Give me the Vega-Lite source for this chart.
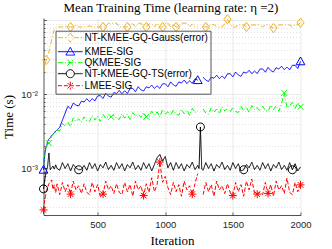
{
"$schema":"https://vega.github.io/schema/vega-lite/v6.json",
"width":257,"height":197,"autosize":"none",
"padding":{"left":43.5,"top":18,"right":31.5,"bottom":34},
"background":"white",
"title":{"text":"Mean Training Time (learning rate: η =2)","font":"Liberation Serif","fontSize":13,"fontWeight":"normal","color":"#000","anchor":"middle","offset":4,"baseline":"bottom","dx":-1,"dy":19},
"datasets":{
"lines":[
{"x":100,"a":0.0195,"b":0.00096,"c":0.00105,"d":0.00053,"e":0.000275},
{"x":105,"a":0.022,"b":0.0013,"c":0.0013,"d":0.00062,"e":0.00033},
{"x":110,"a":0.0245,"b":0.0016,"c":0.0015,"d":0.00072,"e":0.00038},
{"x":115,"a":0.027,"b":0.0018,"c":0.0017,"d":0.0008,"e":0.00043},
{"x":120,"a":0.0292,"b":0.002,"c":0.0019,"d":0.00092,"e":0.00048},
{"x":125,"a":0.031,"b":0.0021,"c":0.002,"d":0.00098,"e":0.00051},
{"x":130,"a":0.034,"b":0.0023,"c":0.0021,"d":0.00105,"e":0.00055},
{"x":140,"a":0.038,"b":0.0025,"c":0.0022,"d":0.00162,"e":0.00062},
{"x":150,"a":0.045,"b":0.0026,"c":0.0025,"d":0.00096,"e":0.00066},
{"x":160,"a":0.055,"b":0.0028,"c":0.0027,"d":0.00102,"e":0.0007},
{"x":170,"a":0.066,"b":0.0029,"c":0.0029,"d":0.00108,"e":0.00052},
{"x":180,"a":0.075,"b":0.003,"c":0.0031,"d":0.00098,"e":0.0006},
{"x":190,"a":0.08,"b":0.0032,"c":0.0032,"d":0.00112,"e":0.00047},
{"x":200,"a":0.0817,"b":0.0033,"c":0.0033,"d":0.001,"e":0.00062},
{"x":220,"a":0.0817,"b":0.0036,"c":0.00322,"d":0.000945,"e":0.000443},
{"x":240,"a":0.0817,"b":0.0045,"c":0.00407,"d":0.0012,"e":0.000648},
{"x":260,"a":0.083,"b":0.0056,"c":0.00374,"d":0.001,"e":0.000486},
{"x":280,"a":0.0817,"b":0.00693,"c":0.00424,"d":0.00116,"e":0.000605},
{"x":300,"a":0.0817,"b":0.00639,"c":0.00369,"d":0.000924,"e":0.00045},
{"x":320,"a":0.0817,"b":0.00767,"c":0.00482,"d":0.00113,"e":0.000675},
{"x":340,"a":0.086,"b":0.00718,"c":0.00431,"d":0.00102,"e":0.000513},
{"x":360,"a":0.0817,"b":0.00699,"c":0.00468,"d":0.00096,"e":0.000583},
{"x":380,"a":0.0817,"b":0.00811,"c":0.00419,"d":0.000966,"e":0.000459},
{"x":400,"a":0.0817,"b":0.00792,"c":0.00497,"d":0.0011,"e":0.000621},
{"x":420,"a":0.0817,"b":0.00877,"c":0.00437,"d":0.000945,"e":0.000475},
{"x":440,"a":0.0845,"b":0.00798,"c":0.00432,"d":0.0012,"e":0.000443},
{"x":460,"a":0.0817,"b":0.00877,"c":0.00517,"d":0.001,"e":0.000648},
{"x":480,"a":0.0817,"b":0.00818,"c":0.00451,"d":0.00116,"e":0.000486},
{"x":500,"a":0.0817,"b":0.00954,"c":0.00509,"d":0.000924,"e":0.000605},
{"x":520,"a":0.0817,"b":0.00966,"c":0.00432,"d":0.00113,"e":0.000421},
{"x":540,"a":0.0817,"b":0.00884,"c":0.00538,"d":0.00102,"e":0.00045},
{"x":560,"a":0.0817,"b":0.01037,"c":0.0048,"d":0.00122,"e":0.000675},
{"x":580,"a":0.092,"b":0.00951,"c":0.0051,"d":0.000966,"e":0.000513},
{"x":600,"a":0.092,"b":0.0092,"c":0.005,"d":0.0011,"e":0.000583},
{"x":620,"a":0.092,"b":0.01061,"c":0.00529,"d":0.000945,"e":0.000459},
{"x":640,"a":0.092,"b":0.0103,"c":0.00475,"d":0.0012,"e":0.000621},
{"x":660,"a":0.0817,"b":0.01134,"c":0.0046,"d":0.001,"e":0.000475},
{"x":680,"a":0.0817,"b":0.01026,"c":0.0055,"d":0.00116,"e":0.000443},
{"x":700,"a":0.0817,"b":0.01122,"c":0.0048,"d":0.000924,"e":0.000648},
{"x":720,"a":0.0817,"b":0.01032,"c":0.00541,"d":0.00113,"e":0.000486},
{"x":740,"a":0.09,"b":0.01198,"c":0.00459,"d":0.00102,"e":0.000605},
{"x":760,"a":0.09,"b":0.01208,"c":0.00571,"d":0.00122,"e":0.000421},
{"x":780,"a":0.0817,"b":0.0109,"c":0.0051,"d":0.000966,"e":0.000675},
{"x":800,"a":0.092,"b":0.01274,"c":0.00541,"d":0.0011,"e":0.000513},
{"x":820,"a":0.092,"b":0.01154,"c":0.00493,"d":0.000945,"e":0.000583},
{"x":840,"a":0.0817,"b":0.01113,"c":0.00572,"d":0.0012,"e":0.00043},
{"x":860,"a":0.0817,"b":0.01269,"c":0.005,"d":0.001,"e":0.000621},
{"x":880,"a":0.09,"b":0.01228,"c":0.00497,"d":0.00116,"e":0.000475},
{"x":900,"a":0.09,"b":0.01338,"c":0.00594,"d":0.000924,"e":0.00075},
{"x":920,"a":0.0817,"b":0.01207,"c":0.00528,"d":0.00113,"e":0.000486},
{"x":940,"a":0.092,"b":0.01306,"c":0.00583,"d":0.0014,"e":0.000605},
{"x":960,"a":0.0817,"b":0.01209,"c":0.00495,"d":0.00155,"e":0.00122},
{"x":980,"a":0.0817,"b":0.01389,"c":0.00627,"d":0.00125,"e":0.00065},
{"x":1000,"a":0.092,"b":0.01397,"c":0.00549,"d":0.00145,"e":0.00078},
{"x":1020,"a":0.092,"b":0.01269,"c":0.00582,"d":0.00102,"e":0.00055},
{"x":1040,"a":0.0817,"b":0.0148,"c":0.00521,"d":0.0012,"e":0.000443},
{"x":1060,"a":0.088,"b":0.01348,"c":0.00616,"d":0.000945,"e":0.000648},
{"x":1080,"a":0.0817,"b":0.01288,"c":0.00542,"d":0.0012,"e":0.000486},
{"x":1100,"a":0.0817,"b":0.01477,"c":0.00524,"d":0.001,"e":0.000605},
{"x":1120,"a":0.092,"b":0.01426,"c":0.00627,"d":0.00116,"e":0.000421},
{"x":1140,"a":0.092,"b":0.01562,"c":0.00547,"d":0.000924,"e":0.000675},
{"x":1160,"a":0.092,"b":0.01406,"c":0.00615,"d":0.00113,"e":0.000513},
{"x":1180,"a":0.0817,"b":0.0153,"c":0.00522,"d":0.00102,"e":0.000583},
{"x":1200,"a":0.09,"b":0.01414,"c":0.0065,"d":0.00122,"e":0.00045},
{"x":1220,"a":0.0817,"b":0.01632,"c":0.00568,"d":0.000966,"e":0.000621},
{"x":1240,"a":0.0817,"b":0.0156,"c":0.00603,"d":0.0011,"e":0.00085},
{"x":1250,"d":0.001},
{"x":1260,"a":0.09,"b":0.01476,"c":0.00539,"d":0.00364,"e":0.000475},
{"x":1270,"d":0.00098},
{"x":1280,"a":0.0817,"b":0.01717,"c":0.00637,"d":0.000945,"e":0.000443},
{"x":1300,"a":0.0817,"b":0.01562,"c":0.00561,"d":0.0012,"e":0.000648},
{"x":1320,"a":0.0817,"b":0.015,"c":0.00543,"d":0.001,"e":0.000486},
{"x":1340,"a":0.088,"b":0.01716,"c":0.0066,"d":0.00116,"e":0.000605},
{"x":1360,"a":0.088,"b":0.01653,"c":0.00576,"d":0.000924,"e":0.000421},
{"x":1380,"a":0.0817,"b":0.01819,"c":0.00636,"d":0.00113,"e":0.000675},
{"x":1400,"a":0.0817,"b":0.01634,"c":0.00549,"d":0.00102,"e":0.000513},
{"x":1420,"a":0.0817,"b":0.01775,"c":0.00683,"d":0.00122,"e":0.000583},
{"x":1440,"a":0.09,"b":0.01646,"c":0.00598,"d":0.000966,"e":0.000459},
{"x":1460,"a":0.104,"b":0.01897,"c":0.00645,"d":0.0011,"e":0.000621},
{"x":1480,"a":0.09,"b":0.01911,"c":0.00577,"d":0.000945,"e":0.000475},
{"x":1500,"a":0.0817,"b":0.0173,"c":0.0067,"d":0.0012,"e":0.00043},
{"x":1520,"a":0.0817,"b":0.02009,"c":0.00589,"d":0.001,"e":0.000648},
{"x":1540,"a":0.087,"b":0.01833,"c":0.0057,"d":0.00116,"e":0.000486},
{"x":1560,"a":0.087,"b":0.01757,"c":0.00693,"d":0.000924,"e":0.000605},
{"x":1580,"a":0.087,"b":0.02007,"c":0.00605,"d":0.00096,"e":0.000421},
{"x":1600,"a":0.0817,"b":0.0194,"c":0.00668,"d":0.00113,"e":0.000675},
{"x":1620,"a":0.087,"b":0.02119,"c":0.00567,"d":0.00102,"e":0.000513},
{"x":1640,"a":0.087,"b":0.0191,"c":0.00706,"d":0.00122,"e":0.00072},
{"x":1660,"a":0.087,"b":0.02071,"c":0.00627,"d":0.000966,"e":0.000459},
{"x":1680,"a":0.087,"b":0.01916,"c":0.00666,"d":0.0011,"e":0.00045},
{"x":1700,"a":0.087,"b":0.02205,"c":0.00595,"d":0.000945,"e":0.000475},
{"x":1720,"a":0.0817,"b":0.02216,"c":0.00691,"d":0.0012,"e":0.000443},
{"x":1740,"a":0.087,"b":0.02002,"c":0.00608,"d":0.001,"e":0.000648},
{"x":1760,"a":0.087,"b":0.02322,"c":0.00589,"d":0.00116,"e":0.00046},
{"x":1780,"a":0.0817,"b":0.02105,"c":0.00715,"d":0.000924,"e":0.000605},
{"x":1800,"a":0.079,"b":0.02015,"c":0.00624,"d":0.00113,"e":0.000421},
{"x":1820,"a":0.0817,"b":0.02298,"c":0.007,"d":0.00102,"e":0.000675},
{"x":1840,"a":0.087,"b":0.02208,"c":0.00594,"d":0.00122,"e":0.000513},
{"x":1860,"a":0.087,"b":0.02408,"c":0.0075,"d":0.000966,"e":0.000583},
{"x":1880,"a":0.087,"b":0.02166,"c":0.0105,"d":0.0011,"e":0.000459},
{"x":1900,"a":0.087,"b":0.02346,"c":0.00657,"d":0.000945,"e":0.00074},
{"x":1920,"a":0.087,"b":0.02158,"c":0.00707,"d":0.0012,"e":0.000475},
{"x":1940,"a":0.0817,"b":0.0248,"c":0.00782,"d":0.00096,"e":0.000443},
{"x":1960,"a":0.087,"b":0.02478,"c":0.00646,"d":0.00116,"e":0.000648},
{"x":1980,"a":0.087,"b":0.02237,"c":0.00773,"d":0.000924,"e":0.000486},
{"x":2000,"a":0.093,"b":0.028,"c":0.0068,"d":0.00105,"e":0.0006}
],
"markers":[
{"key":"a","x":120,"y":0.0292},{"key":"a","x":300,"y":0.0817},{"key":"a","x":540,"y":0.0817},{"key":"a","x":720,"y":0.0817},{"key":"a","x":860,"y":0.0817},{"key":"a","x":980,"y":0.0817},{"key":"a","x":1080,"y":0.0817},{"key":"a","x":1300,"y":0.0817},{"key":"a","x":1460,"y":0.104},{"key":"a","x":1600,"y":0.0817},{"key":"a","x":1800,"y":0.079},{"key":"a","x":2000,"y":0.093},
{"key":"b","x":100,"y":0.00096},{"key":"b","x":1240,"y":0.0156},{"key":"b","x":2000,"y":0.028},
{"key":"c","x":140,"y":0.0022},{"key":"c","x":600,"y":0.005},{"key":"c","x":860,"y":0.005},{"key":"c","x":1880,"y":0.0105},{"key":"c","x":2000,"y":0.0068},
{"key":"d","x":100,"y":0.00053},{"key":"d","x":360,"y":0.00096},{"key":"d","x":1260,"y":0.00364},{"key":"d","x":1580,"y":0.00096},{"key":"d","x":1940,"y":0.00096},
{"key":"e","x":100,"y":0.000275},{"key":"e","x":300,"y":0.00045},{"key":"e","x":540,"y":0.00045},{"key":"e","x":840,"y":0.00043},{"key":"e","x":960,"y":0.00122},{"key":"e","x":1200,"y":0.00045},{"key":"e","x":1500,"y":0.00043},{"key":"e","x":1680,"y":0.00045},{"key":"e","x":1760,"y":0.00046},{"key":"e","x":2000,"y":0.0006}
]
},
"encoding":{
"x":{"field":"x","type":"quantitative","scale":{"domain":[100,2000],"nice":false,"zero":false},
 "axis":{"values":[500,1000,1500,2000],"format":"d","title":"Iteration","titleY":25,"titleBaseline":"middle","labelPadding":7,"tickSize":-3,"labelFlush":false,"labelOverlap":false,"gridColor":"#dcdcdc","gridWidth":0.6}},
"y":{"field":"y","type":"quantitative","scale":{"type":"log","domain":[0.000235,0.108],"nice":false},
 "axis":{"values":[0.0003,0.0004,0.0005,0.0006,0.0007,0.0008,0.0009,0.001,0.002,0.003,0.004,0.005,0.006,0.007,0.008,0.009,0.01,0.02,0.03,0.04,0.05,0.06,0.07,0.08,0.09,0.1],
 "labelExpr":"datum.value === 0.001 ? '10⁻³' : datum.value === 0.01 ? '10⁻²' : ''",
 "labelOverlap":false,"labelPadding":9,"title":"Time (s)","titleX":-35.5,"titleY":98.5,"titleAngle":-90,"titleBaseline":"middle","titleAlign":"center",
 "gridDash":{"condition":{"test":"datum.value === 0.001 || datum.value === 0.01 || datum.value === 0.1","value":[]},"value":[1,2]},
 "gridColor":{"condition":{"test":"datum.value === 0.001 || datum.value === 0.01 || datum.value === 0.1","value":"#dcdcdc"},"value":"#cfcfcf"},
 "gridWidth":0.6,
 "tickSize":{"condition":{"test":"datum.value === 0.001 || datum.value === 0.01 || datum.value === 0.1","value":-3},"value":-1.5}}}
},
"layer":[
{"data":{"name":"lines"},
 "transform":[{"fold":["a","b","c","d","e"],"as":["key","y"]}],
 "mark":{"type":"line","interpolate":"linear"},
 "encoding":{
  "color":{"field":"key","type":"nominal","scale":{"domain":["a","b","c","d","e"],"range":["#EDB120","#0000FF","#00FF00","#000000","#FF0000"]},"legend":null},
  "strokeDash":{"field":"key","type":"nominal","scale":{"domain":["a","b","c","d","e"],"range":[[5,2,1,2],[1,0],[5,2,1,2],[1,0],[4,2]]},"legend":null},
  "strokeWidth":{"field":"key","type":"ordinal","scale":{"domain":["a","b","c","d","e"],"range":[1,1,1,2.4,0.7]},"legend":null}
 }},
{"data":{"name":"markers"},
 "mark":{"type":"point","filled":false,"opacity":1,"size":64},
 "encoding":{
  "color":{"field":"key","type":"nominal","scale":{"domain":["a","b","c","d","e"],"range":["#EDB120","#0000FF","#00FF00","#000000","#FF0000"]},"legend":null},
  "shape":{"field":"key","type":"nominal","scale":{"domain":["a","b","c","d","e"],"range":["M0,-1.15L0.9,0L0,1.15L-0.9,0Z","M0,-1.1L1.1,0.85L-1.1,0.85Z","M-0.75,-0.75L0.75,0.75M-0.75,0.75L0.75,-0.75","M-1,0A1 1 0 1 1 1,0A1 1 0 1 1 -1,0","M0,-1V1M-1,0H1M-0.7,-0.7L0.7,0.7M-0.7,0.7L0.7,-0.7"]},"legend":null},
  "strokeWidth":{"field":"key","type":"ordinal","scale":{"domain":["a","b","c","d","e"],"range":[1,1,1,1.6,0.8]},"legend":null}
 }},
{"data":{"name":"markers"},
 "transform":[{"filter":"datum.x > 5000"}],
 "mark":{"type":"point","filled":false,"opacity":1},
 "encoding":{
  "color":{"field":"key","type":"nominal","scale":{"domain":["a","b","c","d","e"],"range":["#EDB120","#0000FF","#00FF00","#000000","#FF0000"]},"legend":{"title":null,"labelExpr":"datum.label == 'a' ? 'NT-KMEE-GQ-Gauss(error)' : datum.label == 'b' ? 'KMEE-SIG' : datum.label == 'c' ? 'QKMEE-SIG' : datum.label == 'd' ? 'NT-KMEE-GQ-TS(error)' : 'LMEE-SIG'"}},
  "shape":{"field":"key","type":"nominal","scale":{"domain":["a","b","c","d","e"],"range":["M-1.15,0H1.05M2.85,0H5.05M1.95,-1.15L2.85,0L1.95,1.15L1.05,0Z","M-1.15,0H5.05M1.95,-1.1L3.05,0.85L0.85,0.85Z","M-1.15,0H5.05M1.2,-0.75L2.7,0.75M1.2,0.75L2.7,-0.75","M-1.15,0H0.95M2.95,0H5.05M0.95,0A1 1 0 1 1 2.95,0A1 1 0 1 1 0.95,0","M-1.15,0H5.05M1.95,-1V1M1.25,-0.7L2.65,0.7M1.25,0.7L2.65,-0.7"]},"legend":{"title":null,"labelExpr":"datum.label == 'a' ? 'NT-KMEE-GQ-Gauss(error)' : datum.label == 'b' ? 'KMEE-SIG' : datum.label == 'c' ? 'QKMEE-SIG' : datum.label == 'd' ? 'NT-KMEE-GQ-TS(error)' : 'LMEE-SIG'"}},
  "strokeDash":{"field":"key","type":"nominal","scale":{"domain":["a","b","c","d","e"],"range":[[5,2,1,2],[1,0],[5,2,1,2],[1,0],[4,2]]},"legend":{"title":null,"labelExpr":"datum.label == 'a' ? 'NT-KMEE-GQ-Gauss(error)' : datum.label == 'b' ? 'KMEE-SIG' : datum.label == 'c' ? 'QKMEE-SIG' : datum.label == 'd' ? 'NT-KMEE-GQ-TS(error)' : 'LMEE-SIG'"}},
  "strokeWidth":{"field":"key","type":"ordinal","scale":{"domain":["a","b","c","d","e"],"range":[1,1,1,2,0.8]},"legend":{"title":null,"labelExpr":"datum.label == 'a' ? 'NT-KMEE-GQ-Gauss(error)' : datum.label == 'b' ? 'KMEE-SIG' : datum.label == 'c' ? 'QKMEE-SIG' : datum.label == 'd' ? 'NT-KMEE-GQ-TS(error)' : 'LMEE-SIG'"}}
 }}
],
"resolve":{"scale":{"color":"independent","shape":"independent","strokeDash":"independent","strokeWidth":"independent"}},
"config":{
 "view":{"stroke":null},
 "axis":{"labelFont":"Liberation Sans","labelFontSize":9.5,"labelColor":"#262626","domainColor":"#262626","domainWidth":0.8,"tickColor":"#262626","tickWidth":0.7,"titleFont":"Liberation Serif","titleFontSize":13,"titleFontWeight":"normal","titleColor":"#000","grid":true},
 "legend":{"orient":"none","legendX":12,"legendY":12.7,"padding":2,"rowPadding":0,"labelOffset":17,"labelFont":"Liberation Sans","labelFontSize":10,"labelColor":"#000","symbolSize":64,"strokeColor":"#555","labelLimit":300,"symbolStrokeWidth":1}
}
}
